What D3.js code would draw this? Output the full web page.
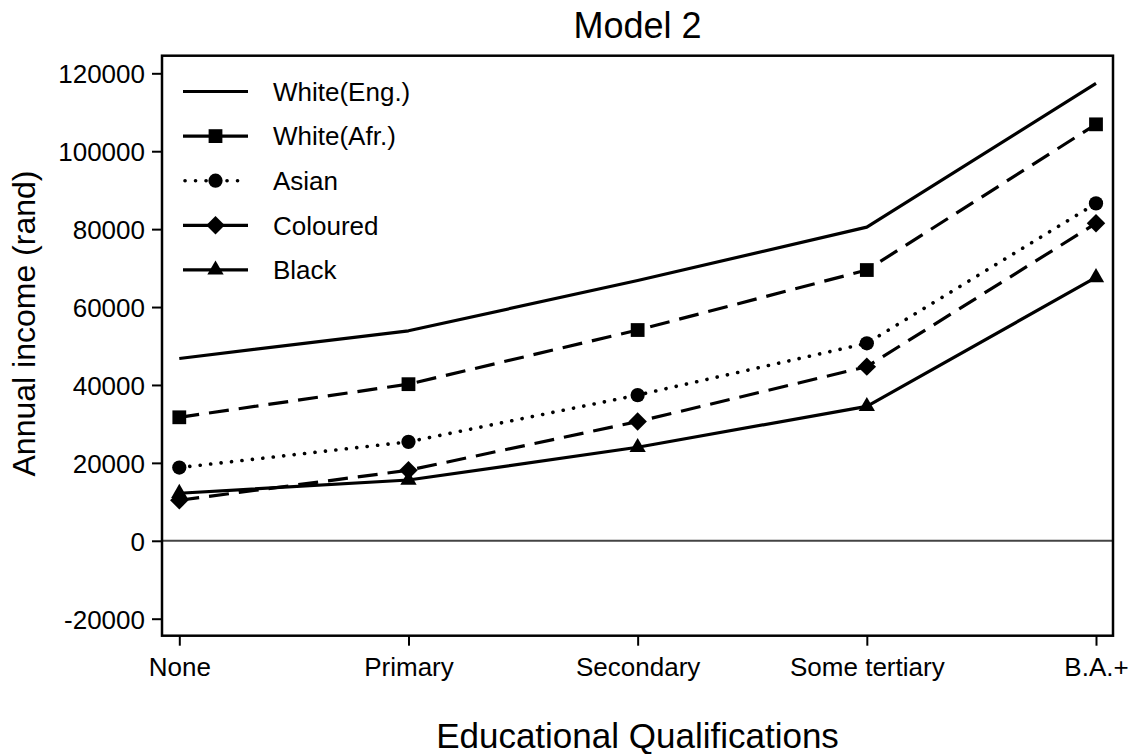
<!DOCTYPE html>
<html>
<head>
<meta charset="utf-8">
<script src="https://cdn.jsdelivr.net/npm/d3@7/dist/d3.min.js"></script>
<style>
  html, body { margin: 0; padding: 0; background: #fff; }
  svg { display: block; font-family: "Liberation Sans", Arial, Helvetica, sans-serif; }
</style>
</head>
<body>
<svg id="chart" width="1136" height="754"></svg>
<script>
const categories = ["None", "Primary", "Secondary", "Some tertiary", "B.A.+"];
const yTicks = [-20000, 0, 20000, 40000, 60000, 80000, 100000, 120000];
const seriesNames = ["White(Eng.)", "White(Afr.)", "Asian", "Coloured", "Black"];
const whiteEng = [46800, 53900, 66800, 80500, 117400];
const whiteAfr = [31700, 40200, 54100, 69500, 106900];
const asian    = [18800, 25400, 37400, 50700, 86600];
const coloured = [10400, 18100, 30600, 44700, 81500];
const black    = [12200, 15600, 24000, 34500, 67600];

const chartTitle = "Model 2";
const xTitle = "Educational Qualifications";
const yTitle = "Annual income (rand)";

const series = [
  { name: seriesNames[0], values: whiteEng, dash: null, marker: null },
  { name: seriesNames[1], values: whiteAfr, dash: "20 10", marker: "square" },
  { name: seriesNames[2], values: asian, dash: "0.1 10.4", marker: "circle" },
  { name: seriesNames[3], values: coloured, dash: "20 10", marker: "diamond" },
  { name: seriesNames[4], values: black, dash: null, marker: "triangle" }
];

const svg = d3.select("#chart");
const frame = { left: 162, right: 1113, top: 55.7, bottom: 635.7 };

const x = d3.scalePoint().domain(categories).range([179.3, 1096]);
const y = d3.scaleLinear().domain([-20000, 120000]).range([618.7, 73.3]);

// zero line
svg.append("line")
  .attr("x1", frame.left).attr("x2", frame.right)
  .attr("y1", y(0)).attr("y2", y(0))
  .attr("stroke", "#444").attr("stroke-width", 2);

// frame
svg.append("rect")
  .attr("x", frame.left).attr("y", frame.top)
  .attr("width", frame.right - frame.left).attr("height", frame.bottom - frame.top)
  .attr("fill", "none").attr("stroke", "#000").attr("stroke-width", 2.5);

// y axis
const yAxis = svg.append("g")
  .attr("transform", `translate(${frame.left},0)`)
  .call(d3.axisLeft(y).tickValues(yTicks).tickSize(10).tickPadding(7).tickFormat(d => String(d)));
yAxis.select(".domain").remove();
yAxis.selectAll(".tick line").attr("stroke", "#000").attr("stroke-width", 2);
yAxis.selectAll(".tick text")
  .attr("font-size", 26).attr("fill", "#000")
  .attr("font-family", "'Liberation Sans', Arial, sans-serif")
  .attr("dy", "0.36em");

// x axis
const xAxis = svg.append("g")
  .attr("transform", `translate(0,${frame.bottom})`)
  .call(d3.axisBottom(x).tickSize(10).tickPadding(12));
xAxis.select(".domain").remove();
xAxis.selectAll(".tick line").attr("stroke", "#000").attr("stroke-width", 2);
xAxis.selectAll(".tick text")
  .attr("font-size", 26).attr("fill", "#000")
  .attr("font-family", "'Liberation Sans', Arial, sans-serif");

// lines
const line = d3.line().x((d, i) => x(categories[i])).y(d => y(d));

function markerPath(type) {
  if (type === "square") return d3.symbol().type(d3.symbolSquare).size(190)();
  if (type === "circle") return d3.symbol().type(d3.symbolCircle).size(160)();
  if (type === "diamond") return d3.symbol().type(d3.symbolSquare).size(170)();
  if (type === "triangle") return d3.symbol().type(d3.symbolTriangle).size(115)();
  return null;
}

series.forEach(s => {
  const p = svg.append("path")
    .datum(s.values)
    .attr("d", line)
    .attr("fill", "none")
    .attr("stroke", "#000")
    .attr("stroke-width", 3.2)
    .attr("stroke-linejoin", "round");
  if (s.dash) {
    p.attr("stroke-dasharray", s.dash);
    if (s.marker === "circle") p.attr("stroke-linecap", "round").attr("stroke-width", 3.6);
  }
  if (s.marker) {
    svg.append("g").selectAll("path")
      .data(s.values)
      .join("path")
      .attr("d", markerPath(s.marker))
      .attr("transform", (d, i) => `translate(${x(categories[i])},${y(d)})` + (s.marker === "diamond" ? " rotate(45)" : ""))
      .attr("fill", "#000");
  }
});

// legend
const legend = svg.append("g");
series.forEach((s, i) => {
  const ly = 91.5 + i * 44.6;
  const g = legend.append("g").attr("transform", `translate(0,${ly})`);
  const ln = g.append("line")
    .attr("x1", 183).attr("x2", 248).attr("y1", 0).attr("y2", 0)
    .attr("stroke", "#000").attr("stroke-width", 3.2);
  if (s.marker === "circle") {
    ln.attr("stroke-dasharray", "0.1 10.4").attr("stroke-linecap", "round").attr("stroke-width", 3.6)
      .attr("x1", 185).attr("x2", 247);
  }
  if (s.marker) {
    g.append("path")
      .attr("d", markerPath(s.marker))
      .attr("transform", `translate(215.5,0)` + (s.marker === "diamond" ? " rotate(45)" : ""))
      .attr("fill", "#000");
  }
  g.append("text")
    .attr("x", 273).attr("y", 0).attr("dy", "0.36em")
    .attr("font-size", 26).attr("fill", "#000")
    .text(s.name);
});

// titles
svg.append("text")
  .attr("x", (frame.left + frame.right) / 2).attr("y", 38)
  .attr("text-anchor", "middle").attr("font-size", 36).attr("fill", "#000")
  .text(chartTitle);

svg.append("text")
  .attr("x", (frame.left + frame.right) / 2).attr("y", 748)
  .attr("text-anchor", "middle").attr("font-size", 35).attr("fill", "#000")
  .text(xTitle);

svg.append("text")
  .attr("transform", "translate(35,323.5) rotate(-90)")
  .attr("text-anchor", "middle").attr("font-size", 32).attr("fill", "#000")
  .text(yTitle);
</script>
</body>
</html>
